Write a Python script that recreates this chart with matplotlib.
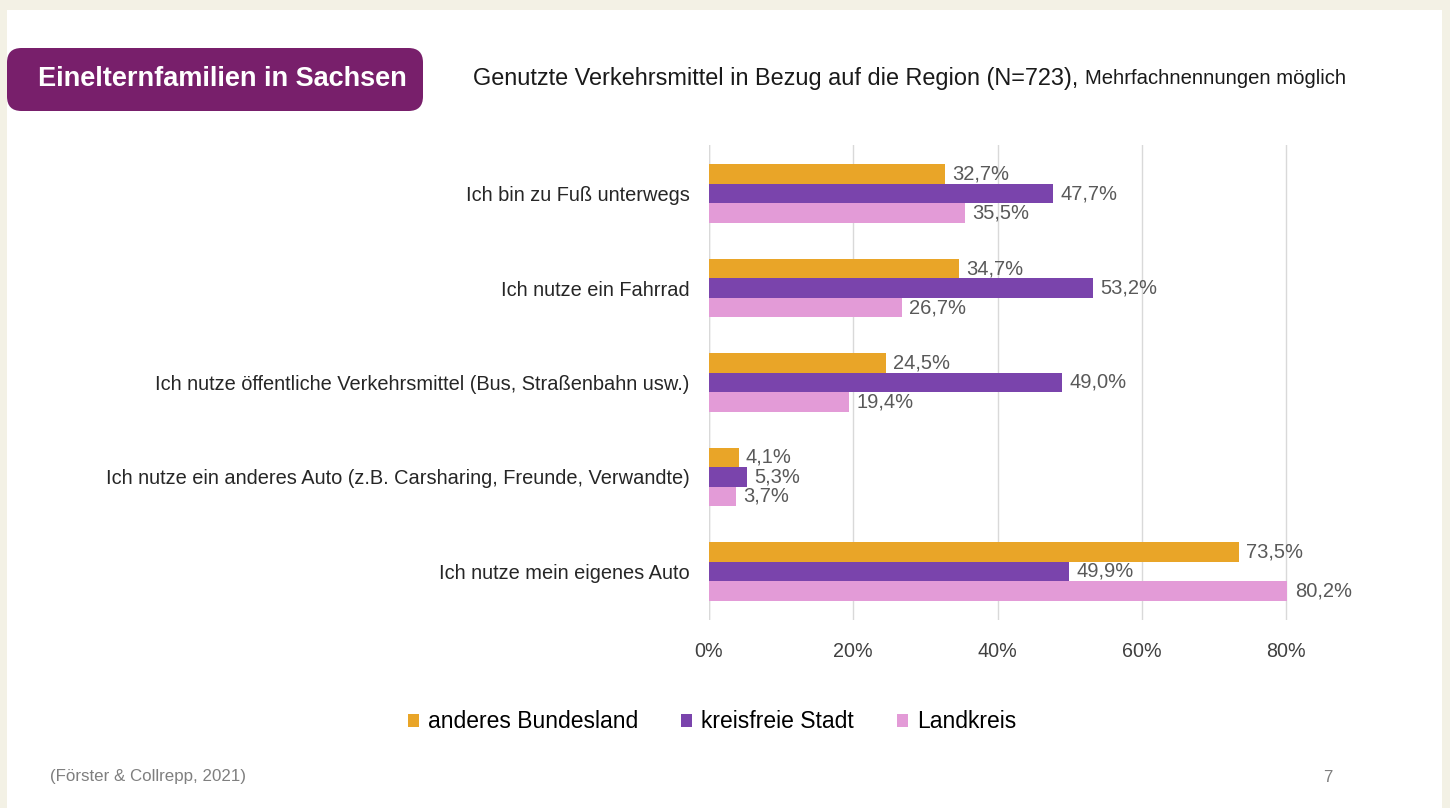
import matplotlib
matplotlib.use("Agg")
import matplotlib.pyplot as plt
from matplotlib.patches import FancyBboxPatch, Rectangle
import numpy as np

plt.rcParams['font.family'] = ['Liberation Sans', 'DejaVu Sans']

categories = [
    "Ich bin zu Fuß unterwegs",
    "Ich nutze ein Fahrrad",
    "Ich nutze öffentliche Verkehrsmittel (Bus, Straßenbahn usw.)",
    "Ich nutze ein anderes Auto (z.B. Carsharing, Freunde, Verwandte)",
    "Ich nutze mein eigenes Auto",
]
series_names = ["anderes Bundesland", "kreisfreie Stadt", "Landkreis"]
anderes_bundesland = [32.7, 34.7, 24.5, 4.1, 73.5]
kreisfreie_stadt = [47.7, 53.2, 49.0, 5.3, 49.9]
landkreis = [35.5, 26.7, 19.4, 3.7, 80.2]
x_ticks = [0, 20, 40, 60, 80]
x_tick_labels = ["0%", "20%", "40%", "60%", "80%"]

colors = ["#E9A528", "#7A44AC", "#E39BD7"]

W, H = 1450, 808
fig = plt.figure(figsize=(W / 100, H / 100), dpi=100)
fig.patch.set_facecolor("#F3F1E5")

# white slide
fig.patches.append(Rectangle((7 / W, 0), (1442 - 7) / W, 1 - 10 / H,
                             transform=fig.transFigure, facecolor="white",
                             edgecolor="none", zorder=-2))
# title box
fig.patches.append(FancyBboxPatch((7 / W, 1 - 111 / H), (423 - 7) / W, 63 / H,
                                  boxstyle="round,pad=0,rounding_size=0.01",
                                  transform=fig.transFigure, facecolor="#781F6B",
                                  edgecolor="none", zorder=1, mutation_aspect=W / H))
fig.text(38 / W, 1 - 79 / H, "Einelternfamilien in Sachsen", color="white",
         fontsize=19.5, fontweight="bold", va="center", ha="left", zorder=2)

t1 = fig.text(473 / W, 1 - 78 / H,
              "Genutzte Verkehrsmittel in Bezug auf die Region (N=723), ",
              fontsize=16.9, color="#1a1a1a", va="center", ha="left")
fig.canvas.draw()
bb = t1.get_window_extent()
fig.text(bb.x1 / W, 1 - 79 / H, "Mehrfachnennungen möglich",
         fontsize=14.6, color="#1a1a1a", va="center", ha="left")

ax_left = 709 / W
xmax = 82
ax_w = xmax * (1286 - 709) / 80 / W
ax = fig.add_axes([ax_left, 1 - 620 / H, ax_w, 475 / H])
ax.set_facecolor("none")

y = np.arange(len(categories))
h = 0.206
data = [anderes_bundesland, kreisfreie_stadt, landkreis]
for i, (vals, name, c) in enumerate(zip(data, series_names, colors)):
    yy = y + (i - 1) * h
    ax.barh(yy, vals, height=h, color=c, label=name, zorder=3, clip_on=False)
    for v, yv in zip(vals, yy):
        ax.text(v + 1.0, yv, f"{v:.1f}%".replace(".", ","), va="center",
                ha="left", fontsize=14.5, color="#595959", zorder=4)

ax.set_xlim(0, xmax)
ax.set_ylim(4.515, -0.515)
ax.set_xticks(x_ticks)
ax.set_xticklabels(x_tick_labels, fontsize=14.2, color="#404040")
ax.set_yticks(y)
ax.set_yticklabels(categories, fontsize=14.4, color="#262626")
ax.tick_params(axis="both", length=0)
ax.tick_params(axis="x", pad=16)
ax.tick_params(axis="y", pad=14)
ax.grid(axis="x", color="#D9D9D9", linewidth=1, zorder=0)
for s in ax.spines.values():
    s.set_visible(False)
ax.axvline(0, color="#D9D9D9", linewidth=1, zorder=2)

handles, labels = ax.get_legend_handles_labels()
fig.legend(handles, labels, loc="center", bbox_to_anchor=(712 / W, 1 - 722 / H),
           ncol=3, frameon=False, fontsize=16.5, handlelength=0.5, handleheight=0.5,
           handletextpad=0.4, columnspacing=1.85)

fig.text(50 / W, 1 - 777 / H, "(Förster & Collrepp, 2021)", fontsize=12.2,
         color="#7f7f7f", va="center", ha="left")
fig.text(1328 / W, 1 - 777 / H, "7", fontsize=12.2, color="#7f7f7f",
         va="center", ha="center")

fig.savefig("out.png", dpi=100, facecolor=fig.get_facecolor())
